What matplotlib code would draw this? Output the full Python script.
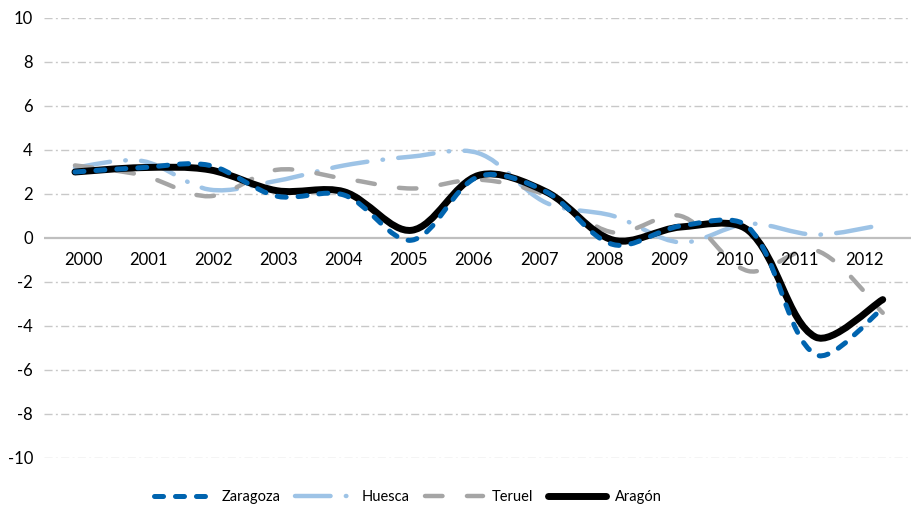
import numpy as np
import matplotlib
matplotlib.use('Agg')
import matplotlib.pyplot as plt
from matplotlib.path import Path
from matplotlib.patches import PathPatch
from matplotlib.lines import Line2D

years = ['2000', '2001', '2002', '2003', '2004', '2005', '2006',
         '2007', '2008', '2009', '2010', '2011', '2012']

zaragoza = [3.0, 3.2, 3.3, 1.9, 1.95, -0.1, 2.8, 2.1, -0.3, 0.55, 0.5, -5.3, -3.2]
huesca = [3.2, 3.5, 2.2, 2.6, 3.3, 3.7, 3.85, 1.6, 1.0, -0.2, 0.65, 0.15, 0.6]
teruel = [3.3, 2.85, 1.9, 3.1, 2.7, 2.25, 2.65, 1.95, 0.25, 1.0, -1.5, -0.55, -3.4]
aragon = [3.0, 3.2, 3.1, 2.15, 2.1, 0.35, 2.85, 2.1, -0.1, 0.5, 0.35, -4.5, -2.8]

yticks = [-10, -8, -6, -4, -2, 0, 2, 4, 6, 8, 10]

plt.rcParams['font.family'] = ['Lato', 'DejaVu Sans']
plt.rcParams['lines.scale_dashes'] = False


def smooth_path(ax, values):
    # Excel-like smoothing: Bezier controls sized by segment lengths on screen
    trans = ax.transData
    pts = trans.transform(np.column_stack([np.arange(len(values)), values]))
    n = len(pts)
    verts = [pts[0]]
    codes = [Path.MOVETO]
    for i in range(n - 1):
        p0 = pts[i - 1] if i > 0 else pts[i]
        p1 = pts[i]
        p2 = pts[i + 1]
        p3 = pts[i + 2] if i + 2 < n else pts[i + 1]
        d01 = np.hypot(*(p1 - p0))
        d12 = np.hypot(*(p2 - p1))
        d23 = np.hypot(*(p3 - p2))
        c1 = p1 + (p2 - p0) * d12 / (d01 + d12) / 3 if d01 > 0 else p1 + (p2 - p1) / 6
        c2 = p2 - (p3 - p1) * d12 / (d12 + d23) / 3 if d23 > 0 else p2 - (p2 - p1) / 6
        verts += [c1, c2, p2]
        codes += [Path.CURVE4] * 3
    return Path(trans.inverted().transform(np.array(verts)), codes)


series = [
    ('Zaragoza', zaragoza, dict(color='#0064AF', lw=3.6, dashes=(6.5, 8.6), z=5)),
    ('Huesca', huesca, dict(color='#9DC3E6', lw=3.2, dashes=(25.6, 11, 0.4, 11), z=2)),
    ('Teruel', teruel, dict(color='#A5A5A5', lw=3.2, dashes=(12.6, 17.6), z=3)),
    ('Aragón', aragon, dict(color='#000000', lw=5.0, dashes=None, z=4)),
]

fig = plt.figure(figsize=(9.11, 5.07), dpi=100)
ax = fig.add_axes([44 / 911, 1 - 458 / 507, 1 - 44 / 911, 440 / 507])
ax.set_xlim(-0.46, 12.42)
ax.set_ylim(-10, 10)

for y in yticks:
    if y == 0:
        ax.axhline(0, color='#BFBFBF', lw=1.6, zorder=1)
    else:
        ax.axhline(y, color='#C8C8C8', lw=1.0, dashes=(5.8, 2.4, 1.4, 2.4), zorder=1)

handles = []
for name, vals, st in series:
    ls = '-' if st['dashes'] is None else (0, st['dashes'])
    patch = PathPatch(smooth_path(ax, vals), fill=False, edgecolor=st['color'],
                      lw=st['lw'], linestyle=ls, capstyle='round',
                      joinstyle='round', zorder=st['z'])
    ax.add_patch(patch)
    h = Line2D([], [], color=st['color'], lw=st['lw'], solid_capstyle='round',
               dash_capstyle='round')
    if st['dashes'] is not None:
        h.set_dashes(st['dashes'])
    handles.append(h)

# category labels sit just under the zero line
for i, yr in enumerate(years):
    ax.text(0.119 + i * 0.968, -1.0, yr, ha='center', va='center',
            fontsize=12, color='#000000')

for s in ax.spines.values():
    s.set_visible(False)
ax.set_xticks([])
ax.set_yticks(yticks)
ax.set_yticklabels([str(t) for t in yticks], fontsize=12)
ax.tick_params(axis='y', length=0, pad=8)

fig.legend(handles, [s[0] for s in series], loc='center',
           bbox_to_anchor=(408 / 911, 1 - 497 / 507), ncol=4, frameon=False,
           fontsize=10.5, handlelength=4.0, handletextpad=0.6, columnspacing=1.0)

fig.savefig('out.png', dpi=100)
